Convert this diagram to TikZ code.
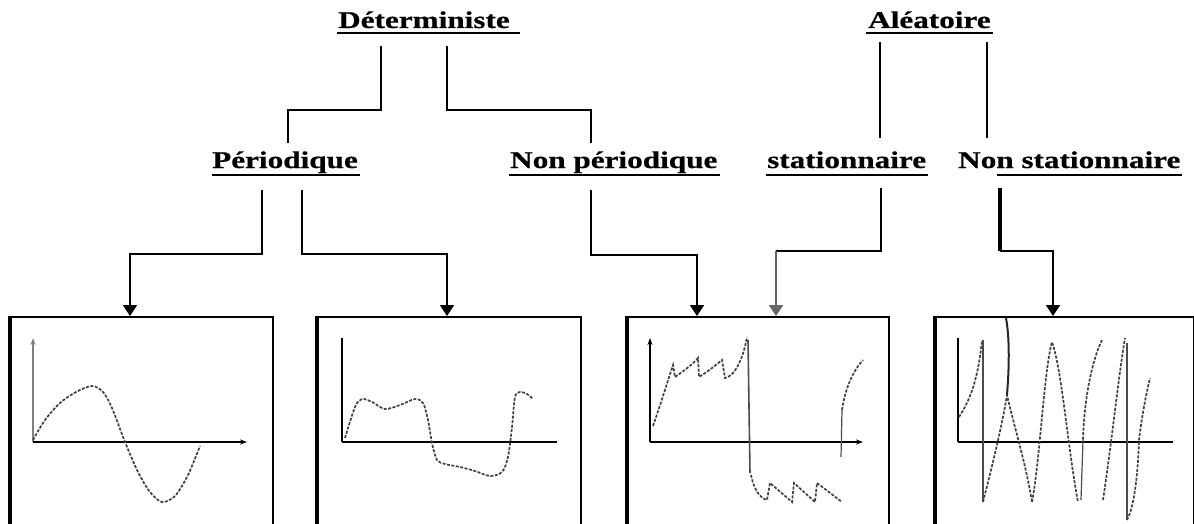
\documentclass[tikz,border=0pt]{standalone}
\usepackage{fontspec}
\usetikzlibrary{arrows.meta,calc}
\newfontfamily\lblfont[FakeStretch=1.3,FakeBold=0.6]{Liberation Serif}
\begin{document}
\begin{tikzpicture}[x=1pt,y=-1pt,
  lbl/.style={inner sep=0pt, anchor=base west, font=\lblfont\bfseries\fontsize{24}{26}\selectfont},
  ul/.style={line width=2.5pt},
  conn/.style={line width=1.8pt},
  arr/.style={conn,-{Triangle[width=14pt,length=11pt]}},
  frame/.style={draw, line width=2pt, rectangle, inner sep=0pt, anchor=north west, minimum height=214pt},
  edge/.style={line width=4.5pt},
  axis/.style={line width=1.5pt},
  axarr/.style={axis,-{Stealth[length=7pt,width=5pt]}},
  sig/.style={line width=1.7pt, black!75, dash pattern=on 3pt off 1.5pt},
  trace/.style={line width=1.2pt, black!70}
]
\useasboundingbox (0,0) rectangle (1194,524);
\clip (0,0) rectangle (1194,524);

% category labels
\node[lbl] (det)  at (338,28)  {Déterministe};
\node[lbl] (ale)  at (868,28)  {Aléatoire};
\node[lbl] (per)  at (212,168) {Périodique};
\node[lbl] (nper) at (510,168) {Non périodique};
\node[lbl] (sta)  at (767,168) {stationnaire};
\node[lbl] (nsta) at (958,168) {Non stationnaire};

% underlines
\draw[ul] ($(det.base west)+(-1,5)$) -- ($(det.base east)+(10,5)$);
\draw[ul] ($(ale.base west)+(-2,5)$) -- ($(ale.base east)+(2,5)$);
\draw[ul] ($(per.base west)+(0,7)$) -- ($(per.base east)+(2,7)$);
\draw[ul] ($(nper.base west)+(-1,7)$) -- ($(nper.base east)+(2,7)$);
\draw[ul] ($(sta.base west)+(-1,7)$) -- ($(sta.base east)+(2,7)$);
\draw[ul] ($(nsta.base west)+(39,7)$) -- ($(nsta.base east)+(1,7)$);

% signal frames
\node[frame, minimum width=262pt] (b1) at (10,316) {};
\node[frame, minimum width=263pt] (b2) at (317,316) {};
\node[frame, minimum width=261pt] (b3) at (627,316) {};
\node[frame, minimum width=258pt] (b4) at (935,316) {};
\foreach \b in {b1,b2,b3,b4}
  \draw[edge] (\b.north west) -- (\b.south west);

% tree connectors
\draw[conn] ($(det.base west)+(43,18)$) |- ($(per.base west)+(76,-58)$) -- ($(per.base west)+(76,-25)$);
\draw[conn] ($(det.base west)+(109,18)$) |- ($(nper.base west)+(81,-58)$) -- ($(nper.base west)+(81,-25)$);
\draw[conn] ($(ale.base west)+(12,14)$) -- ($(sta.base west)+(113,-30)$);
\draw[conn] ($(ale.base west)+(119,14)$) -- ($(nsta.base west)+(29,-30)$);

% connectors to the frames
\draw[arr] ($(per.base west)+(50,22)$) |- ($(b1.north west)+(120,-62)$) -- ($(b1.north west)+(120,0)$);
\draw[arr] ($(per.base west)+(90,22)$) |- ($(b2.north west)+(130,-62)$) -- ($(b2.north west)+(130,0)$);
\draw[arr] ($(nper.base west)+(81,22)$) |- ($(b3.north west)+(70,-61)$) -- ($(b3.north west)+(70,0)$);
\draw[conn] ($(sta.base west)+(114,20)$) |- ($(b3.north west)+(149,-65)$);
\draw[arr, black!60] ($(b3.north west)+(149,-65)$) -- ($(b3.north west)+(149,0)$);
\draw[line width=4pt] ($(nsta.base west)+(42,20)$) -- ($(nsta.base west)+(42,83)$);
\draw[arr] ($(nsta.base west)+(42,83)$) -| ($(b4.north west)+(118,0)$);

% sine wave
\draw[axarr, black!50] (33,442) -- (33,338);
\draw[axarr] (33,442) -- (247,442);
\draw[sig] plot[smooth] coordinates {(33,440) (45,420) (60,403) (76,392) (92,386) (103,392) (112,408) (125,442) (138,472) (150,492) (162,502) (175,496) (188,475) (200,446)};

% periodic non-sinusoidal wave
\draw[axis] (342,442) -- (342,338);
\draw[axis] (342,442) -- (557,442);
\draw[sig] plot[smooth] coordinates {(345,438) (355,407) (362,399) (372,402) (385,409) (400,405) (415,399) (423,403) (428,420) (432,443) (437,460) (445,464) (460,467) (475,471) (490,476) (502,472) (508,457) (512,427) (515,397) (520,392) (527,394) (533,399)};

% non-periodic wave
\draw[axarr] (650,442) -- (650,338);
\draw[axarr] (650,442) -- (863,442);
\draw[sig] (653,426) .. controls (662,400) and (668,380) .. (673,365) -- (675,377)
  .. controls (685,370) and (693,364) .. (698,358) -- (699,377)
  .. controls (710,370) and (716,365) .. (722,360) -- (725,378)
  .. controls (736,376) and (744,355) .. (747,337);
\draw[trace, line width=1.6pt] (748,340) -- (750,473);
\draw[sig] (751,475) .. controls (754,490) and (760,498) .. (767,500) -- (770,483) -- (792,502)
  -- (794,483) -- (815,502) -- (817,483) -- (842,502);
\draw[trace] (841,457) -- (842,410);
\draw[sig] (842,410) .. controls (845,390) and (852,372) .. (863,360);

% non-stationary random wave
\draw[axis] (958,442) -- (958,338);
\draw[axis] (958,442) -- (1173,442);
\draw[sig] (959,417) .. controls (970,400) and (978,380) .. (982,340);
\draw[trace] (983,340) -- (983,502);
\draw[sig] (983,502) .. controls (995,455) and (1003,420) .. (1007,395)
  .. controls (1015,430) and (1025,460) .. (1032,502);
\draw[line width=2pt, black!85] (1006,318) .. controls (1010,340) and (1009,370) .. (1007,395);
\draw[sig] (1032,502) .. controls (1040,460) and (1044,370) .. (1052,342)
  .. controls (1062,370) and (1068,450) .. (1078,502);
\draw[sig] (1102,340) .. controls (1092,360) and (1084,400) .. (1083,440);
\draw[trace] (1083,440) -- (1081,500);
\draw[sig] (1103,500) .. controls (1112,440) and (1118,380) .. (1125,338);
\draw[trace] (1127,343) -- (1127,520);
\draw[sig] (1127,520) .. controls (1135,505) and (1138,470) .. (1139,440)
  .. controls (1142,415) and (1146,395) .. (1150,378);
\end{tikzpicture}
\end{document}
